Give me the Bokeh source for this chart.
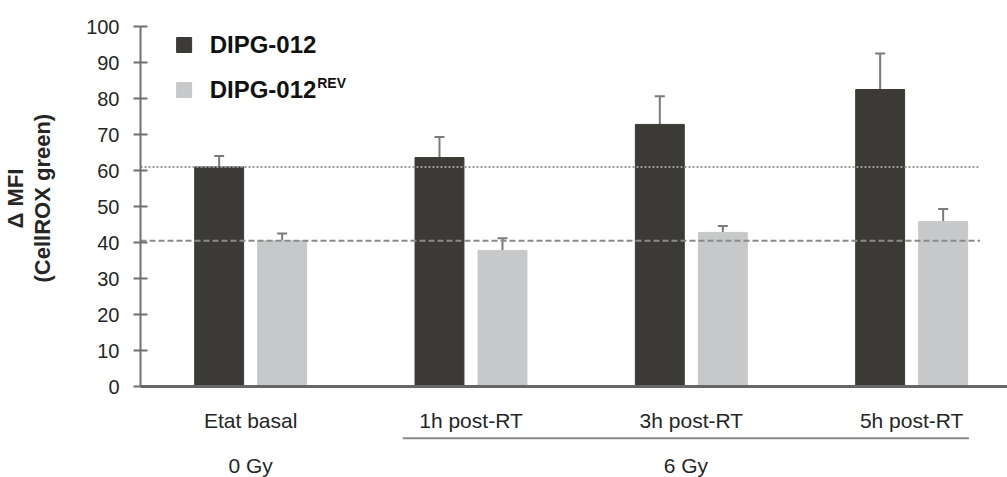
from bokeh.plotting import figure
from bokeh.models import Range1d, FixedTicker, Span, Whisker, ColumnDataSource, TeeHead, Title
from bokeh.core.properties import value
from bokeh.embed import file_html
from bokeh.resources import INLINE

# ---- data ----
categories = ["Etat basal", "1h post-RT", "3h post-RT", "5h post-RT"]
series_names = ["DIPG-012", "DIPG-012"]
series_sup = ["", "REV"]
dipg = [61.0, 63.6, 72.8, 82.5]
dipg_err = [3.0, 5.7, 7.8, 10.0]
rev = [40.5, 37.8, 42.8, 45.8]
rev_err = [2.0, 3.4, 1.8, 3.5]
doses = ["0 Gy", "6 Gy"]
y_ticks = [0, 10, 20, 30, 40, 50, 60, 70, 80, 90, 100]
y_label_lines = ["\u0394 MFI", "(CellROX green)"]

# ---- layout constants ----
W, H = 1007, 477
LEFT, TOP = 140, 26
PX_X = 220.33   # px per category
PX_Y = 3.6      # px per y unit
x_start = -0.5
x_end = x_start + (W - LEFT) / PX_X
y_end = 100
y_start = y_end - (H - TOP) / PX_Y

DARK = "#3b3a36"
LIGHT = "#c6c8c9"
GREY = "#7a7a7a"
TXT = "#262626"
FONT = "Liberation Sans"

p = figure(width=W, height=H, x_range=Range1d(x_start, x_end), y_range=Range1d(y_start, y_end),
           output_backend="svg", toolbar_location=None, x_axis_location=None,
           min_border_left=LEFT, min_border_right=0, min_border_top=TOP, min_border_bottom=0)
p.grid.visible = False
p.outline_line_color = None
p.background_fill_color = "white"

idx = list(range(len(categories)))
off = 0.143
bw = 0.222
xd = [i - off for i in idx]
xl = [i + off for i in idx]

p.vbar(x=xd, top=dipg, bottom=0, width=bw, fill_color=DARK, line_color=DARK)
p.vbar(x=xl, top=rev, bottom=0, width=bw, fill_color=LIGHT, line_color=LIGHT)

# reference lines at basal levels
ref_end = 3.31
p.line(x=[x_start, ref_end], y=[dipg[0], dipg[0]], line_color="#9a9a9a", line_width=2, line_dash="2 2")
p.line(x=[x_start, ref_end], y=[rev[0], rev[0]], line_color="#8a8a8a", line_width=2, line_dash="6 3")

# error bars
for xs, vals, errs in ((xd, dipg, dipg_err), (xl, rev, rev_err)):
    src = ColumnDataSource(dict(x=xs, upper=[v + e for v, e in zip(vals, errs)],
                                lower=[v - e for v, e in zip(vals, errs)]))
    w = Whisker(base="x", upper="upper", lower="lower", source=src, dimension="height",
                line_color=GREY, line_width=2,
                upper_head=TeeHead(size=10, line_color=GREY, line_width=2),
                lower_head=TeeHead(size=10, line_color=GREY, line_width=2))
    p.add_layout(w)

# baseline
p.add_layout(Span(location=0, dimension="width", line_color="#666666", line_width=3))

# y axis
ax = p.yaxis[0]
ax.bounds = (0, 100)
ax.ticker = FixedTicker(ticks=y_ticks)
ax.axis_line_color = "#707070"
ax.axis_line_width = 2
ax.major_tick_line_color = "#707070"
ax.major_tick_line_width = 2
ax.major_tick_in = 7
ax.major_tick_out = 7
ax.minor_tick_line_color = None
ax.major_label_text_font = FONT
ax.major_label_text_font_size = "20px"
ax.major_label_text_color = TXT
ax.major_label_standoff = 14

# y axis title: spacer + two rotated lines in the left panel
p.add_layout(Title(text=" ", text_font_size="1px", standoff=25), "left")
for txt, offs in ((y_label_lines[1], 195), (y_label_lines[0], 249)):
    p.add_layout(Title(text=txt, align="left", offset=offs, standoff=0, vertical_align="middle",
                       text_font=FONT, text_font_size="22px", text_font_style="bold",
                       text_color=TXT), "left")

# category labels
p.text(x=idx, y=[-9.4] * len(idx), text=categories, text_font=value(FONT), text_font_size="21px",
       text_align="center", text_baseline="middle", text_color=TXT)

# dose bracket and labels
br0, br1 = 1 - 0.31, 3 + 0.26
p.line(x=[br0, br1], y=[-14.4, -14.4], line_color="#8a8a8a", line_width=2)
p.text(x=[0, (br0 + br1) / 2], y=[-21.9, -21.9], text=doses, text_font=value(FONT), text_font_size="21px",
       text_align="center", text_baseline="middle", text_color=TXT)

# legend (manual, for superscript)
p.scatter(x=[-0.302, -0.302], y=[94.86, 82.36], marker="square", size=15, color=[DARK, LIGHT])
p.text(x=[-0.186, -0.186], y=[95.0, 82.5], text=series_names, text_font=value(FONT),
       text_font_size="24px", text_font_style="bold", text_align="left", text_baseline="middle",
       text_color="#111111")
p.text(x=[0.302], y=[84.2], text=[series_sup[1]], text_font=value(FONT), text_font_size="14px",
       text_font_style="bold", text_align="left", text_baseline="middle", text_color="#111111")

open("out.html", "w").write(file_html(p, INLINE))
